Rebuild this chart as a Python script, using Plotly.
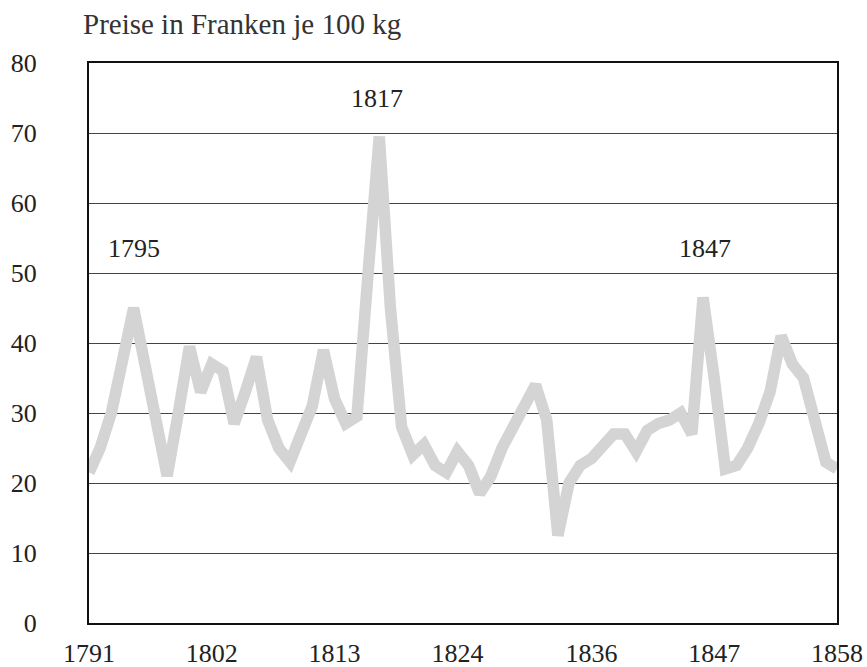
import plotly.graph_objects as go

years = list(range(1791, 1859))
prices = [
    21.5, 25, 30, 37, 45, 37, 29, 21, 30, 39.5,   # 1791-1800
    33, 37, 36, 28.5, 33, 38, 29, 25, 23, 27,     # 1801-1810
    31, 39, 32, 28.5, 29.5, 50, 69.5, 45, 28, 24, # 1811-1820
    25.5, 22.5, 21.5, 24.5, 22.5, 18.5, 21, 25, 28, 31,  # 1821-1830
    34, 29, 12.5, 20, 22.5, 23.5, 25.5, 27, 27, 24.5,    # 1831-1840
    27.5, 28.5, 29, 30, 27, 46.5, 35, 22, 22.5, 25,      # 1841-1850
    28.5, 33, 41, 37, 35, 29, 23, 22,                    # 1851-1858
]
x_ticks = [1791, 1802, 1813, 1824, 1836, 1847, 1858]
y_ticks = [0, 10, 20, 30, 40, 50, 60, 70, 80]
peak_labels = ["1795", "1817", "1847"]
title_text = "Preise in Franken je 100 kg"

FONT = "Liberation Serif"

fig = go.Figure()
fig.add_trace(go.Scatter(
    x=years, y=prices, mode="lines",
    line=dict(color="#d4d4d4", width=11.5),
    hoverinfo="skip", showlegend=False,
))

ann_pos = [(1795, 53.5), (1816.8, 74.9), (1846.2, 53.5)]
annotations = []
for (ax, ay), txt in zip(ann_pos, peak_labels):
    annotations.append(dict(x=ax, y=ay, xref="x", yref="y", text=txt,
                            showarrow=False, xanchor="center", yanchor="middle",
                            font=dict(family=FONT, size=26, color="#222")))
annotations.append(dict(x=-0.011, y=1.07, xref="paper", yref="paper",
                        text=title_text, showarrow=False, xanchor="left",
                        yanchor="middle",
                        font=dict(family=FONT, size=29, color="#333")))

fig.update_layout(
    width=867, height=667,
    margin=dict(l=89, r=30, t=63, b=44),
    paper_bgcolor="white", plot_bgcolor="white",
    annotations=annotations,
    font=dict(family=FONT, size=26, color="#222"),
)
fig.update_xaxes(
    range=[1791, 1858], tickmode="array", tickvals=x_ticks,
    ticktext=[str(t) for t in x_ticks],
    showgrid=False, zeroline=False, ticks="", automargin=False,
    showline=True, linecolor="#111", linewidth=2, mirror=True,
    ticklabelstandoff=6,
    tickfont=dict(family=FONT, size=26, color="#222"),
)
fig.update_yaxes(
    range=[0, 80], tickmode="array", tickvals=y_ticks,
    ticktext=[str(t) for t in y_ticks],
    showgrid=True, gridcolor="#444", gridwidth=1,
    zeroline=False, ticks="", automargin=False,
    showline=True, linecolor="#111", linewidth=2, mirror=True,
    ticklabelstandoff=45,
    tickfont=dict(family=FONT, size=26, color="#222"),
)

fig.write_html("out.html", config={"displayModeBar": False},
               post_script="document.body.style.margin='0px';")
